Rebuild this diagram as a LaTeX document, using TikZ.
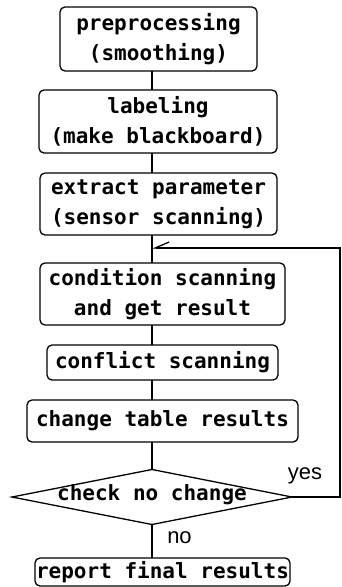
\documentclass[tikz,border=0pt]{standalone}
\usepackage{fontspec}
\usetikzlibrary{shapes.geometric,arrows.meta}
\newfontfamily\boxfont{DejaVu Sans Mono}[BoldFont={DejaVu Sans Mono Bold}]
\newfontfamily\labfont{Liberation Sans}
\begin{document}
\begin{tikzpicture}[x=1pt,y=-1pt,
  every node/.style={inner sep=0pt,outer sep=0pt},
  txt/.style={font=\boxfont\bfseries\fontsize{21}{30}\selectfont},
  box/.style={txt,draw,line width=1.3pt,rounded corners=5pt,align=center},
  lab/.style={font=\labfont\fontsize{22}{24}\selectfont},
  conn/.style={line width=1.3pt}]
\useasboundingbox (0,0) rectangle (341,587);
\node[box,minimum width=197pt,minimum height=64pt] (b1) at (158.5,39) {preprocessing\\(smoothing)};
\node[box,minimum width=238pt,minimum height=63pt] (b2) at (158,121.5) {labeling\\(make blackboard)};
\node[box,minimum width=237pt,minimum height=62pt] (b3) at (158.5,204) {extract parameter\\(sensor scanning)};
\node[box,minimum width=245pt,minimum height=62pt] (b4) at (162.5,294) {condition scanning\\and get result};
\node[box,minimum width=231pt,minimum height=35pt] (b5) at (162.5,362.5) {conflict scanning};
\node[box,minimum width=271pt,minimum height=42pt] (b6) at (162.5,421) {change table results};
\node[draw,diamond,line width=1.3pt,minimum width=280pt,minimum height=55pt,inner sep=0pt] (d) at (152,497) {};
\node[txt] (dt) at (152,495) {check no change};
\node[box,minimum width=255pt,minimum height=28pt] (b7) at (162.5,572) {report final results};
\node[lab] (yes) at (305,476) {yes};
\node[lab] (no) at (179.5,538) {no};
\coordinate (c1) at (340,497);
\coordinate (c2) at (340,248);
\coordinate (c3) at (152,248);
\draw[conn] (b1.south -| d.north) -- (b2.north -| d.north);
\draw[conn] (b2.south -| d.north) -- (b3.north -| d.north);
\draw[conn] (b3.south -| d.north) -- (b4.north -| d.north);
\draw[conn] (b4.south -| d.north) -- (b5.north -| d.north);
\draw[conn] (b5.south -| d.north) -- (b6.north -| d.north);
\draw[conn] (b6.south -| d.north) -- (d.north);
\draw[conn] (d.south) -- (b7.north -| d.south);
\draw[conn,-{Straight Barb[harpoon,swap,length=14pt,width=12pt]}] (d.east) -- (c1) -- (c2) -- (c3);
\end{tikzpicture}
\end{document}
